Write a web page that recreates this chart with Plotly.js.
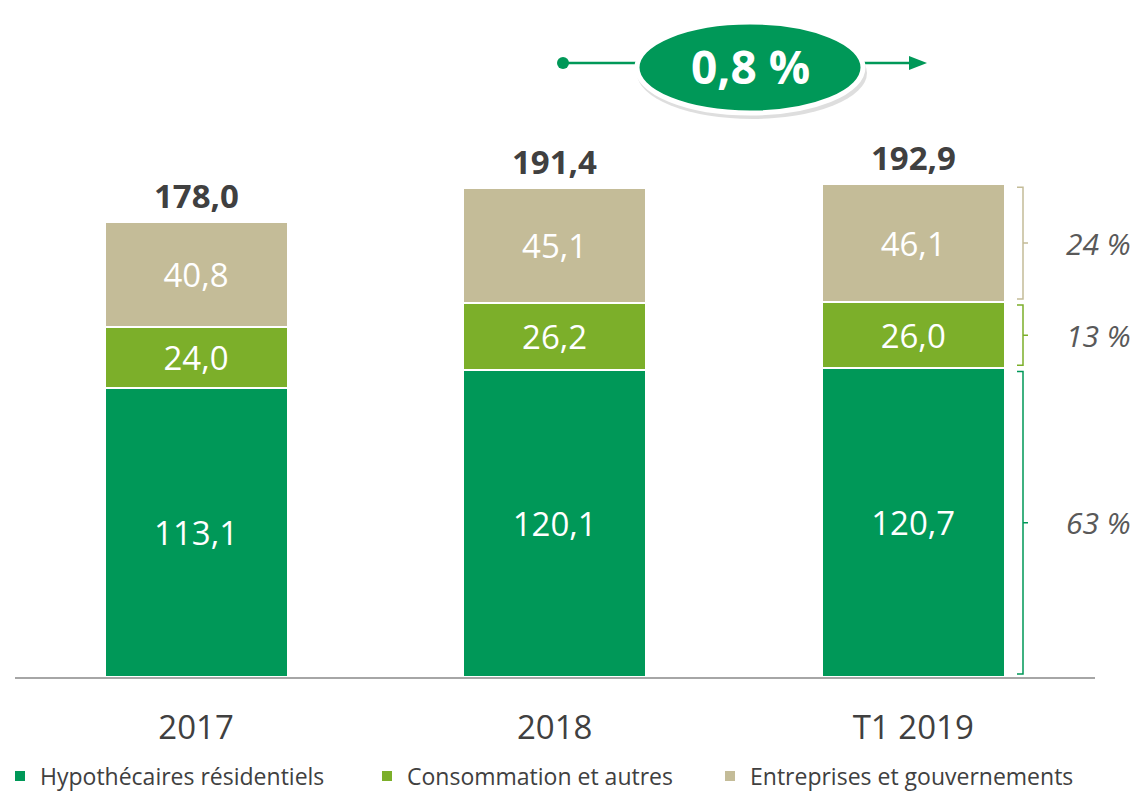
<!DOCTYPE html>
<html><head><meta charset="utf-8">
<script src="https://cdn.plot.ly/plotly-3.0.1.min.js"></script>
<style>html,body{margin:0;padding:0;background:#fff}#chart{width:1143px;height:791px}</style>
</head><body><div id="chart"></div>
<script>
const categories = ['2017', '2018', 'T1 2019'];
const residentiel = [113.1, 120.1, 120.7];
const consommation = [24.0, 26.2, 26.0];
const entreprises = [40.8, 45.1, 46.1];
const totals = [178.0, 191.4, 192.9];
const shareLabels = ['63 %', '13 %', '24 %'];
const growthLabel = '0,8 %';
const seriesNames = ['Hypothécaires résidentiels', 'Consommation et autres', 'Entreprises et gouvernements'];
const colors = ['#009858', '#7CAF2A', '#C4BC98'];

const FONT = '"Open Sans", "DejaVu Sans", sans-serif';
const W = 1143, H = 791, ML = 15, MR = 48, MT = 20, MB = 114;
const PW = W - ML - MR, PH = H - MT - MB;
const YMAX = 257;
const px = x => (x - ML) / PW;
const py = y => (H - MB - y) / PH;

const series = [residentiel, consommation, entreprises];
const legendOf = ['legend', 'legend', 'legend2'];
const traces = series.map((vals, i) => ({
  type: 'bar', x: categories, y: vals, name: seriesNames[i], legend: legendOf[i],
  marker: {color: colors[i], line: {color: '#ffffff', width: 2}},
  width: 0.51,
  texttemplate: '%{y:.1f}', textposition: 'inside', insidetextanchor: 'middle',
  textangle: 0, constraintext: 'none',
  textfont: {family: FONT, size: 33, color: '#ffffff'},
  hoverinfo: 'skip'
}));

const annotations = categories.map((c, i) => ({
  x: i, y: totals[i], xref: 'x', yref: 'y', yanchor: 'bottom', yshift: 2,
  text: '<b>' + totals[i].toFixed(1).replace('.', ',') + '</b>', showarrow: false,
  font: {family: FONT, size: 33, color: '#404040'}
}));

// braces for the last bar
const last = categories.length - 1;
const bounds = [];
let acc = 0;
series.forEach(s => { bounds.push([acc, acc + s[last]]); acc += s[last]; });
const shapes = [];
const bx0 = px(1017), bx1 = px(1023), bx2 = px(1028);
bounds.forEach((b, i) => {
  const lo = b[0] + 1.2, hi = b[1] - 1.2, mid = (b[0] + b[1]) / 2;
  shapes.push({type: 'path', xref: 'paper', yref: 'y',
    path: `M ${bx0} ${lo} L ${bx1} ${lo} L ${bx1} ${hi} L ${bx0} ${hi} M ${bx1} ${mid} L ${bx2} ${mid}`,
    line: {color: colors[i], width: 1.5}});
  annotations.push({x: px(1098), y: mid, xref: 'paper', yref: 'y', text: '<i>' + shareLabels[i] + '</i>',
    showarrow: false, xanchor: 'center', yanchor: 'middle', font: {family: FONT, size: 30, color: '#595959'}});
});

// growth bubble
shapes.push({type: 'line', xref: 'paper', yref: 'paper', x0: px(563), x1: px(915), y0: py(63), y1: py(63),
  line: {color: '#009858', width: 2.5}, layer: 'below'});
shapes.push({type: 'circle', xref: 'paper', yref: 'paper', x0: px(557), x1: px(569), y0: py(57), y1: py(69),
  fillcolor: '#009858', line: {width: 0}, layer: 'below'});
shapes.push({type: 'path', xref: 'paper', yref: 'paper',
  path: `M ${px(909)} ${py(56)} L ${px(927)} ${py(63)} L ${px(909)} ${py(70)} Z`,
  fillcolor: '#009858', line: {width: 0}, layer: 'below'});
shapes.push({type: 'circle', xref: 'paper', yref: 'paper', x0: px(637), x1: px(867), y0: py(27), y1: py(119),
  fillcolor: 'rgba(0,0,0,0.13)', line: {width: 0}, layer: 'below'});
shapes.push({type: 'circle', xref: 'paper', yref: 'paper', x0: px(637), x1: px(863), y0: py(22), y1: py(113),
  fillcolor: '#009858', line: {color: '#ffffff', width: 5}, layer: 'below'});
annotations.push({x: px(750), y: py(66), xref: 'paper', yref: 'paper', text: '<b>' + growthLabel + '</b>',
  showarrow: false, xanchor: 'center', yanchor: 'middle', font: {family: FONT, size: 46, color: '#ffffff'}});

const legendFont = {family: FONT, size: 23, color: '#404040'};
const layout = {
  width: W, height: H, margin: {l: ML, r: MR, t: MT, b: MB, autoexpand: false},
  paper_bgcolor: '#ffffff', plot_bgcolor: 'rgba(0,0,0,0)', barmode: 'stack', separators: ', ',
  showlegend: true,
  legend: {orientation: 'h', x: px(0), y: py(776), xanchor: 'left', yanchor: 'middle',
    font: legendFont, traceorder: 'normal', entrywidth: 322, entrywidthmode: 'pixels'},
  legend2: {orientation: 'h', x: px(710), y: py(776), xanchor: 'left', yanchor: 'middle',
    font: legendFont, traceorder: 'normal'},
  xaxis: {type: 'category', range: [-0.505, 2.507], showline: true, linecolor: '#A6A6A6', linewidth: 2,
    ticks: '', showgrid: false, zeroline: false, ticklabelstandoff: 20,
    tickfont: {family: FONT, size: 33, color: '#404040'}},
  yaxis: {range: [0, YMAX], visible: false, showgrid: false, zeroline: false},
  annotations, shapes, font: {family: FONT}
};
Plotly.newPlot('chart', traces, layout, {displayModeBar: false, staticPlot: true});
</script></body></html>
